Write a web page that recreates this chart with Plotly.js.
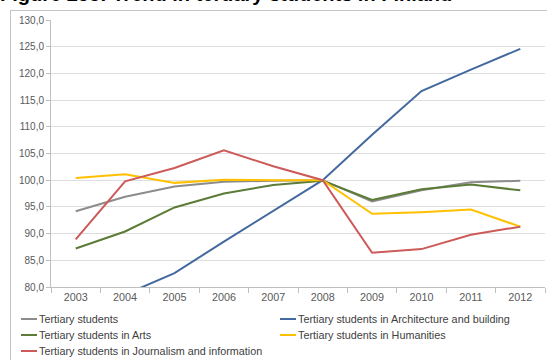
<!DOCTYPE html>
<html>
<head>
<meta charset="utf-8">
<script src="https://cdn.plot.ly/plotly-3.0.1.min.js"></script>
<style>
html,body{margin:0;padding:0;background:#fff;width:547px;height:360px;overflow:hidden;}
#frame{position:absolute;left:10px;top:10px;width:600px;height:400px;border-left:1px solid #c4c4c4;border-top:1px solid #c4c4c4;box-sizing:border-box;}
#chart{position:absolute;left:0;top:0;width:547px;height:360px;}
</style>
</head>
<body>
<div id="frame"></div>
<div id="chart"></div>
<script>
const years = ['2003','2004','2005','2006','2007','2008','2009','2010','2011','2012'];
const seriesNames = [
  'Tertiary students',
  'Tertiary students in Architecture and building',
  'Tertiary students in Arts',
  'Tertiary students in Humanities',
  'Tertiary students in Journalism and information'
];
const tertiary      = [94.2, 96.9, 98.8, 99.7, 99.9, 100.0, 96.0, 98.1, 99.6, 99.9];
const architecture  = [null, 78.6, 82.6, 88.5, 94.3, 100.0, 108.5, 116.7, 120.7, 124.6];
const arts          = [87.2, 90.4, 94.9, 97.5, 99.1, 99.9, 96.3, 98.3, 99.2, 98.1];
const humanities    = [100.4, 101.1, 99.5, 100.1, 100.0, 100.0, 93.7, 94.0, 94.5, 91.3];
const journalism    = [88.9, 99.8, 102.3, 105.6, 102.6, 100.0, 86.4, 87.1, 89.8, 91.3];
const seriesValues = [tertiary, architecture, arts, humanities, journalism];
const colors = ['#8c8c8c', '#44699e', '#5b7b36', '#ffc000', '#cc5a58'];

const traces = seriesValues.map((vals, i) => ({
  type: 'scatter', mode: 'lines', x: years, y: vals, name: seriesNames[i],
  line: {color: colors[i], width: 2}, connectgaps: false, showlegend: false
}));

// legend built from names/colors (2 columns)
const W = 547, H = 360, mL = 51, mR = 2, mT = 20, mB = 73;
const pw = W - mL - mR, ph = H - mT - mB;
const px2x = p => (p - mL) / pw;
const py2y = p => (H - mB - p) / ph;
const colX = [21, 280];
const rowY = [319, 335, 351];
const annotations = [], shapes = [];
seriesNames.forEach((n, i) => {
  const c = i % 2, r = Math.floor(i / 2);
  shapes.push({type: 'line', xref: 'paper', yref: 'paper',
    x0: px2x(colX[c]), x1: px2x(colX[c] + 16), y0: py2y(rowY[r]), y1: py2y(rowY[r]),
    line: {color: colors[i], width: 2}});
  annotations.push({xref: 'paper', yref: 'paper', x: px2x(colX[c] + 16), y: py2y(rowY[r]),
    xanchor: 'left', yanchor: 'middle', showarrow: false, text: n,
    font: {family: 'Liberation Sans, Arial, sans-serif', size: 10.8, color: '#404040'}});
});

const layout = {
  width: W, height: H,
  margin: {l: mL, r: mR, t: mT, b: mB},
  paper_bgcolor: 'rgba(0,0,0,0)', plot_bgcolor: 'rgba(0,0,0,0)',
  separators: ', ',
  showlegend: false,
  title: {text: '<b>Figure 255: Trend in tertiary students in Finland</b>',
    font: {family: 'Liberation Sans, Arial, sans-serif', size: 20, color: '#000'},
    x: 0, xref: 'container', xanchor: 'left', y: 1 - 1/360, yref: 'container', yanchor: 'bottom', pad: {t: 0, b: 0, l: 0, r: 0}},
  xaxis: {type: 'category', range: [-0.5, 9.5], tickson: 'boundaries', ticks: 'outside', ticklen: 5,
    tickcolor: '#bfbfbf', showline: true, linecolor: '#bfbfbf', linewidth: 1, showgrid: false,
    tickfont: {family: 'Liberation Sans, Arial, sans-serif', size: 10.8, color: '#595959'}, fixedrange: true},
  yaxis: {range: [80, 130], dtick: 5, tickformat: '.1f', showgrid: true, gridcolor: '#dedede', gridwidth: 1,
    showline: true, linecolor: '#bfbfbf', ticks: 'outside', ticklen: 4, tickcolor: '#bfbfbf',
    zeroline: false, tickfont: {family: 'Liberation Sans, Arial, sans-serif', size: 10, color: '#595959'}, fixedrange: true},
  annotations: annotations, shapes: shapes
};
Plotly.newPlot('chart', traces, layout, {displayModeBar: false, staticPlot: true});
</script>
</body>
</html>
